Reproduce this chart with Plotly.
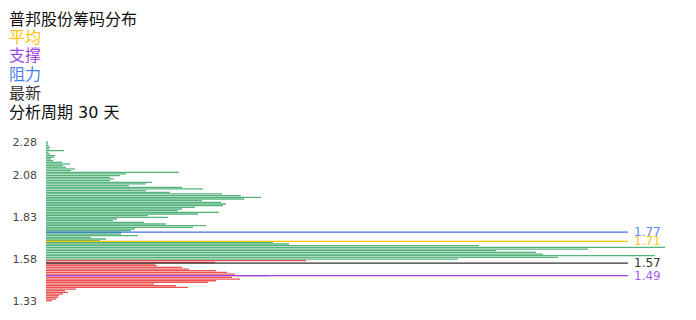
import plotly.graph_objects as go

# price levels (category values), top to bottom
prices = [2.28, 2.27, 2.26, 2.25, 2.24, 2.23, 2.22, 2.21, 2.20, 2.19, 2.18, 2.17, 2.16, 2.15, 2.14, 2.13,
          2.12, 2.11, 2.10, 2.09, 2.08, 2.07, 2.06, 2.05, 2.04, 2.03, 2.02, 2.01, 2.00, 1.99, 1.98, 1.97,
          1.96, 1.95, 1.94, 1.93, 1.92, 1.91, 1.90, 1.89, 1.88, 1.87, 1.86, 1.85, 1.84, 1.83, 1.82, 1.81,
          1.80, 1.79, 1.78, 1.77, 1.76, 1.75, 1.74, 1.73, 1.72, 1.71, 1.70, 1.69, 1.68, 1.67, 1.66, 1.65,
          1.64, 1.63, 1.62, 1.61, 1.60, 1.59, 1.58, 1.57, 1.56, 1.55, 1.54, 1.53, 1.52, 1.51, 1.50, 1.49,
          1.48, 1.47, 1.46, 1.45, 1.44, 1.43, 1.42, 1.41, 1.40, 1.39, 1.38, 1.37, 1.36, 1.35, 1.34, 1.33]

# chip volume at each price level (relative units)
chips = [1.7, 2, 2.5, 4, 3, 18, 2.5, 4, 9, 8, 5, 7, 16, 24, 17, 20,
         29, 25, 133, 80, 74, 64, 68, 64, 106, 100, 83, 136, 157, 100, 124, 176,
         195, 215, 198, 156, 175, 180, 177, 149, 136, 132, 173, 152, 102, 122, 71, 67,
         98, 120, 160, 147, 89, 85, 76, 75, 92, 45, 60, 54, 227, 243, 433, 619,
         542, 450, 490, 497, 609, 512, 412, 260, 169, 109, 111, 136, 143, 170, 181, 189,
         223, 186, 194, 170, 162, 108, 130, 142, 30, 19, 22, 17, 13, 12, 10, 6]

tick_vals = [2.28, 2.08, 1.83, 1.58, 1.33]
tick_text = ["2.28", "2.08", "1.83", "1.58", "1.33"]

title = "普邦股份筹码分布"
avg_price = 1.71
support_price = 1.49
resist_price = 1.77
latest_price = 1.57
period_days = 30

GREEN = "rgba(40,160,90,0.8)"
RED = "rgba(232,50,50,0.85)"
colors = [GREEN if p > latest_price else RED for p in prices]

fig = go.Figure()
fig.add_trace(go.Bar(
    x=chips, y=prices, orientation="h",
    marker=dict(color=colors, line=dict(width=0)),
    hoverinfo="x+y", showlegend=False,
))

W, H = 696, 320
L, R, T, B = 46, 30, 138, 14
plot_h = H - T - B
plot_w = W - L - R

def py(pix):
    return (H - B - pix) / plot_h

def px(pix):
    return (pix - L) / plot_w

lines = [
    (resist_price, "#3f74e6", "#5b8cf7"),
    (avg_price, "#ffc400", "#ffc81e"),
    (latest_price, "#333333", "#333333"),
    (support_price, "#9b45e6", "#a75cf2"),
]
shapes = []
annotations = []
for val, lc, tc in lines:
    shapes.append(dict(type="line", xref="paper", yref="y2", x0=0, x1=px(628),
                       y0=val, y1=val, line=dict(color=lc, width=1.3)))
    annotations.append(dict(xref="paper", yref="y2", x=px(632), y=val, text=f"{val:.2f}",
                            showarrow=False, xanchor="left", yanchor="middle",
                            font=dict(size=12, color=tc, family="DejaVu Sans")))

head = [
    (title, "#111111", 18),
    ("平均", "#ffc400", 36),
    ("支撑", "#9b45e6", 55),
    ("阻力", "#4a7ff0", 74),
    ("最新", "#333333", 93),
    (f"分析周期 {period_days} 天", "#111111", 112),
]
for txt, c, yp in head:
    annotations.append(dict(xref="paper", yref="paper", x=px(7), y=py(yp), text=txt,
                            showarrow=False, xanchor="left", yanchor="middle",
                            font=dict(size=16, color=c, family="DejaVu Sans, Noto Sans CJK SC")))

fig.update_layout(
    width=W, height=H,
    margin=dict(l=L, r=R, t=T, b=B, pad=0),
    paper_bgcolor="white", plot_bgcolor="white",
    bargap=0.22,
    xaxis=dict(range=[0, plot_w], visible=False, fixedrange=True),
    yaxis=dict(range=[1.3105, 2.3055], tickvals=tick_vals, ticktext=tick_text,
               showgrid=False, zeroline=False, showline=False, ticks="",
               ticklabelstandoff=8,
               tickfont=dict(size=11, color="#444444", family="DejaVu Sans")),
    yaxis2=dict(range=[1.3072, 2.3766], overlaying="y", visible=False),
    shapes=shapes,
    annotations=annotations,
    showlegend=False,
)
# dummy trace to activate yaxis2
fig.add_trace(go.Scatter(x=[None], y=[None], yaxis="y2", showlegend=False, hoverinfo="skip"))

fig.write_html("out.html")
